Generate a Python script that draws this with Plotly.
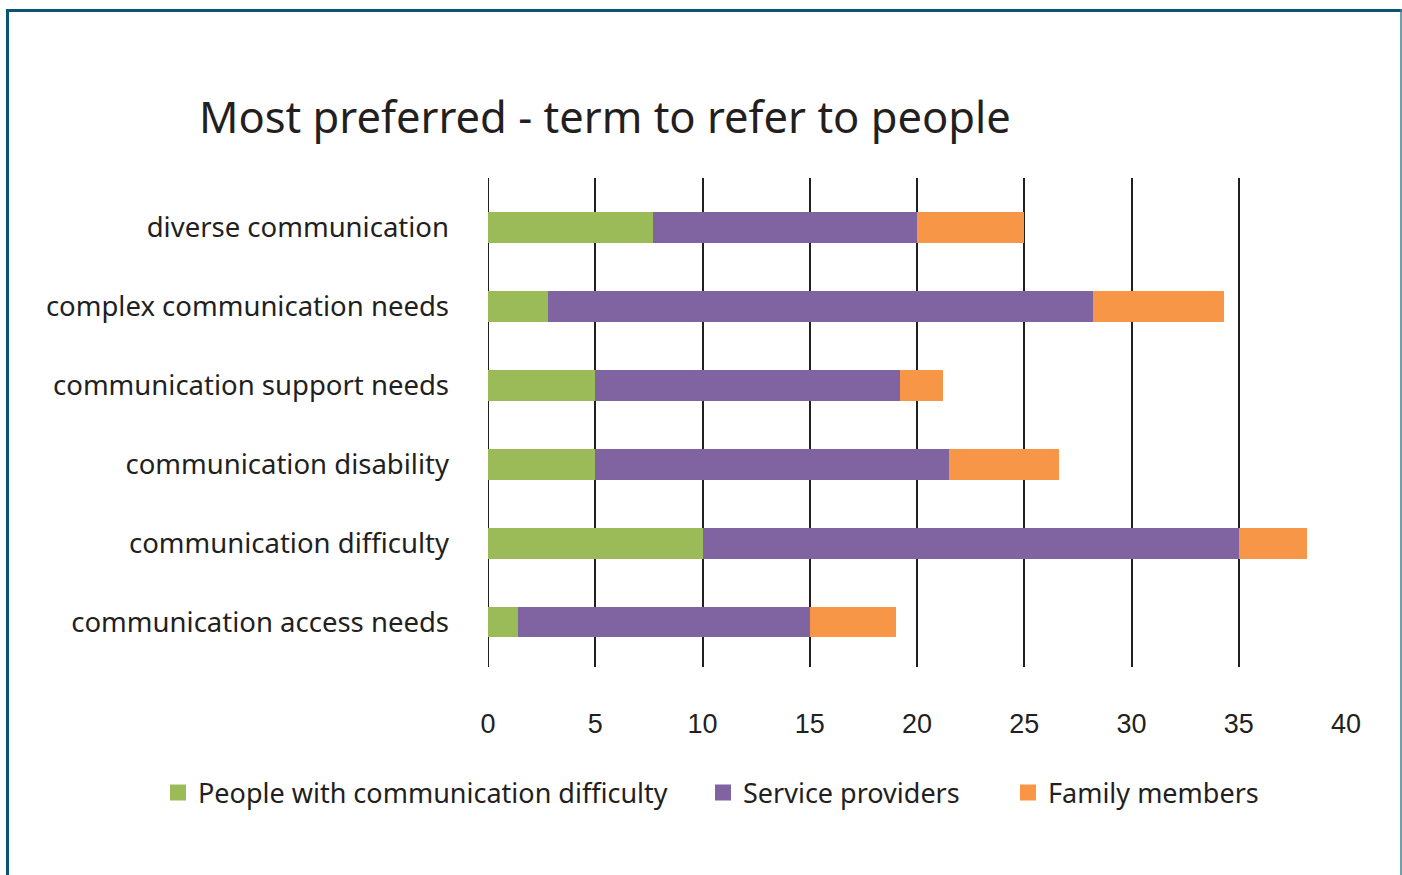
import plotly.graph_objects as go

categories = ["communication access needs", "communication difficulty", "communication disability",
              "communication support needs", "complex communication needs", "diverse communication"]
people = [1.4, 10, 5, 5, 2.8, 7.7]
service = [13.6, 25, 16.5, 14.2, 25.4, 12.3]
family = [4.0, 3.2, 5.1, 2.0, 6.1, 5.0]
tick_vals = [0, 5, 10, 15, 20, 25, 30, 35, 40]
series_names = ["People with communication difficulty", "Service providers", "Family members"]
series_colors = ["#9bbb59", "#8064a2", "#f79646"]

W, H = 1402, 875
L, R, T, B = 488, 1346, 178, 667

def px(x):
    return (x - L) / (R - L)

def py(y):
    return (B - y) / (B - T)

font_main = "Noto Sans, Lato, sans-serif"
fig = go.Figure()
for name, vals, col in zip(series_names, [people, service, family], series_colors):
    fig.add_trace(go.Bar(y=categories, x=vals, name=name, orientation="h", showlegend=False,
                         marker=dict(color=col, line=dict(width=0)), width=0.39))

# legend entries with larger square swatches, each in its own legend
legend_names = ["legend", "legend2", "legend3"]
legend_x = [158, 703, 1008]
for name, col, lg in zip(series_names, series_colors, legend_names):
    fig.add_trace(go.Scatter(x=[None], y=[None], mode="markers", name=name, legend=lg,
                             marker=dict(symbol="square", size=18, color=col)))

layout_legends = {}
for lg, lx in zip(legend_names, legend_x):
    layout_legends[lg] = dict(orientation="h", x=px(lx), xanchor="left", y=py(793), yanchor="middle",
                              font=dict(family=font_main, size=27, color="#231f20"),
                              itemsizing="trace", bgcolor="rgba(0,0,0,0)")

fig.update_layout(
    width=W, height=H,
    barmode="stack",
    plot_bgcolor="white", paper_bgcolor="white",
    margin=dict(l=L, r=W - R, t=T, b=H - B, pad=0),
    title=dict(text="Most preferred - term to refer to people", xref="container", yref="container",
               x=199 / W, xanchor="left", y=1 - 118 / H, yanchor="middle",
               font=dict(family=font_main, size=43.5, color="#231f20")),
    xaxis=dict(range=[0, 40], tickvals=tick_vals, showgrid=True, gridcolor="#231f20", gridwidth=2,
               zeroline=False, showline=False, ticks="", ticklabelstandoff=38,
               tickfont=dict(family="Liberation Sans Narrow, Liberation Sans, Arial", size=27, color="#231f20")),
    yaxis=dict(range=[-0.57, 5.63], showgrid=False, zeroline=False, showline=False, ticks="",
               ticklabelstandoff=38,
               tickfont=dict(family=font_main, size=27.5, color="#231f20")),
    showlegend=True,
    **layout_legends,
)

# zero line drawn as black gridline at 0
fig.add_shape(type="line", xref="x", yref="paper", x0=0, x1=0, y0=0, y1=1,
              line=dict(color="#231f20", width=2), layer="below")

# frame
frame_col = "#0b5473"
fig.add_shape(type="line", xref="paper", yref="paper", x0=px(7), x1=px(1402), y0=py(10.5), y1=py(10.5),
              line=dict(color=frame_col, width=3))
fig.add_shape(type="line", xref="paper", yref="paper", x0=px(7.5), x1=px(7.5), y0=py(9), y1=py(876),
              line=dict(color=frame_col, width=3))
fig.add_shape(type="line", xref="paper", yref="paper", x0=px(1401), x1=px(1401), y0=py(9), y1=py(876),
              line=dict(color="#3f7f99", width=1.5))

fig.write_html("out.html")
